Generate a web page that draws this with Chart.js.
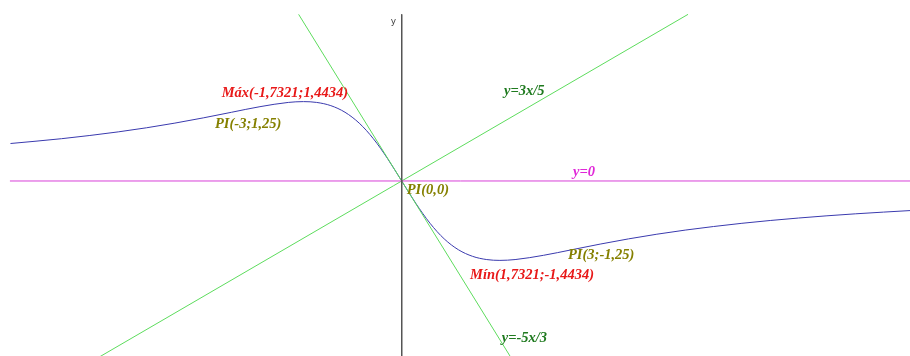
<!DOCTYPE html>
<html><head><meta charset="utf-8">
<script src="https://cdn.jsdelivr.net/npm/chart.js@4"></script>
<style>html,body{margin:0;padding:0;background:#fff;}#wrap{width:910px;height:356px;position:relative;}</style>
</head><body>
<div id="wrap"><canvas id="c"></canvas></div>
<script>
// Curve samples: f(x) = -5x/(x^2+3)
const curveX = [-6.9,-6,-5,-4.5,-4,-3.5,-3,-2.5,-2,-1.732,-1.5,-1.25,-1,-0.75,-0.5,-0.25,0,0.25,0.5,0.75,1,1.25,1.5,1.732,2,2.5,3,3.5,4,4.5,5,6,7,8,9];
const curveY = [0.6817,0.7692,0.8929,0.9677,1.0526,1.1475,1.25,1.3514,1.4286,1.4434,1.4286,1.3699,1.25,1.0526,0.7692,0.4082,0,-0.4082,-0.7692,-1.0526,-1.25,-1.3699,-1.4286,-1.4434,-1.4286,-1.3514,-1.25,-1.1475,-1.0526,-0.9677,-0.8929,-0.7692,-0.6731,-0.5970,-0.5357];
// Straight lines (end points)
const lineRisingX = [-5.5, 5.05];      // y = 3x/5
const lineRisingY = [-3.3, 3.03];
const lineTangentX = [-1.818, 2.0];    // y = -5x/3
const lineTangentY = [3.03, -3.333];
const lineZeroX = [-6.91, 9.0];        // y = 0
const lineZeroY = [0, 0];
const axisYX = [0, 0];                 // y axis
const axisYY = [3.03, -3.3];
// Annotations: text, anchor x, anchor y (data units)
const noteTexts = ["Máx(-1,7321;1,4434)","PI(-3;1,25)","PI(0,0)","Mín(1,7321;-1,4434)","PI(3;-1,25)","y=3x/5","y=0","y=-5x/3"];
const noteX = [-3.175,-3.293,0.088,1.205,2.933,1.804,3.021,1.764];
const noteY = [1.595,1.036,-0.164,-1.709,-1.345,1.624,0.151,-2.855];
const noteColors = ["#e81818","#858000","#858000","#e81818","#858000","#1f7a1f","#e028d8","#1f7a1f"];

const pts = (xs, ys) => xs.map((x,i)=>({x:x,y:ys[i]}));

const labelsPlugin = {
  id:'labels',
  afterDatasetsDraw(chart){
    const ctx = chart.ctx, sx = chart.scales.x, sy = chart.scales.y;
    ctx.save();
    ctx.textBaseline = 'middle';
    ctx.textAlign = 'left';
    ctx.font = 'italic bold 14.5px "Liberation Serif", "Times New Roman", serif';
    noteTexts.forEach((t,i)=>{
      ctx.fillStyle = noteColors[i];
      ctx.fillText(t, sx.getPixelForValue(noteX[i]), sy.getPixelForValue(noteY[i]));
    });
    ctx.font = '9px "DejaVu Sans", sans-serif';
    ctx.fillStyle = '#444';
    ctx.textAlign = 'center';
    ctx.fillText('y', sx.getPixelForValue(-0.145), sy.getPixelForValue(2.9));
    ctx.restore();
  }
};

new Chart(document.getElementById('c'), {
  type:'scatter',
  data:{datasets:[
    {data:pts(axisYX,axisYY), showLine:true, borderColor:'#555', borderWidth:1, pointRadius:0},
    {data:pts(lineZeroX,lineZeroY), showLine:true, borderColor:'#d840d8', borderWidth:1, pointRadius:0},
    {data:pts(lineRisingX,lineRisingY), showLine:true, borderColor:'#5ddc5d', borderWidth:1, pointRadius:0},
    {data:pts(lineTangentX,lineTangentY), showLine:true, borderColor:'#5ddc5d', borderWidth:1, pointRadius:0},
    {data:pts(curveX,curveY), showLine:true, borderColor:'#3a3aae', borderWidth:1, pointRadius:0, cubicInterpolationMode:'monotone'}
  ]},
  options:{
    responsive:true, maintainAspectRatio:false, animation:false,
    layout:{padding:0},
    plugins:{legend:{display:false}, tooltip:{enabled:false}},
    scales:{
      x:{type:'linear', display:false, min:-7.085, max:8.965},
      y:{type:'linear', display:false, min:-3.182, max:3.291}
    }
  },
  plugins:[labelsPlugin]
});
</script>
</body></html>
